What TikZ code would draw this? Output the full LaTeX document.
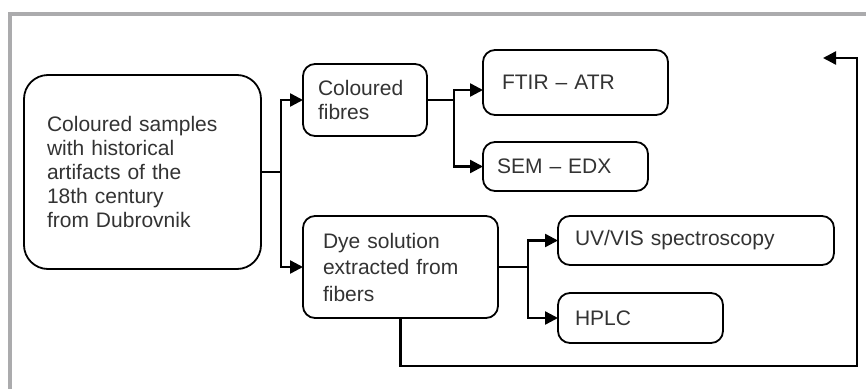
\documentclass[tikz,border=0pt]{standalone}
\usepackage{fontspec}
\setmainfont{Liberation Sans}
\usetikzlibrary{arrows.meta}
\definecolor{txt}{HTML}{333333}
\definecolor{frame}{HTML}{ABABAD}
\tikzset{
  box/.style={draw=black, line width=1.8pt, rounded corners=12pt, anchor=north west,
    outer sep=0pt, align=left, text=txt, inner ysep=0pt, font=\fontsize{21}{24}\selectfont},
  conn/.style={line width=2.4pt, draw=black},
  arr/.style={conn, -{Triangle[length=13pt,width=13pt]}},
}
\begin{document}
\begin{tikzpicture}[x=1pt,y=-1pt]
\useasboundingbox (0,0) rectangle (866,388);
\fill[white] (0,0) rectangle (866,388);
\draw[frame, line width=4pt] (10,390) -- (10,14) -- (870,14);

\node[box, rounded corners=24pt, minimum width=237pt, minimum height=194pt, text width=191pt, inner xsep=23pt] (main) at (24,75)
  {Coloured samples\\with historical\\artifacts of the\\18th century\\from Dubrovnik};
\node[box, minimum width=124pt, minimum height=72pt, text width=94pt, inner xsep=15pt] (fibres) at (303,64)
  {Coloured\\fibres};
\node[box, minimum width=185pt, minimum height=65pt, text width=147pt, inner xsep=19pt] (ftir) at (483,50)
  {FTIR -- ATR};
\node[box, minimum width=165pt, minimum height=49pt, text width=137pt, inner xsep=14pt] (sem) at (483,142)
  {SEM -- EDX};
\node[box, minimum width=195pt, minimum height=102pt, text width=155pt, inner xsep=20pt, font=\fontsize{21}{26.5}\selectfont] (dye) at (303,216)
  {Dye solution\\extracted from\\fibers};
\node[box, minimum width=276pt, minimum height=49pt, text width=242pt, inner xsep=17pt] (uv) at (558,216)
  {UV/VIS spectroscopy};
\node[box, minimum width=165pt, minimum height=50pt, text width=131pt, inner xsep=17pt] (hplc) at (558,293)
  {HPLC};

\coordinate (c1) at (857,366);
\coordinate (ret) at (823,58);

\draw[conn] (main.east) -- ++(20,0) coordinate (j1);
\draw[arr] (j1) |- (fibres.west);
\draw[arr] (j1) |- (dye.west);
\draw[conn] (fibres.east) -- ++(27,0) coordinate (j2);
\draw[arr] (j2) |- ([yshift=-7.5pt]ftir.west);
\draw[arr] (j2) |- (sem.west);
\draw[conn] (dye.east) -- ++(30,0) coordinate (j3);
\draw[arr] (j3) |- (uv.west);
\draw[arr] (j3) |- (hplc.west);
\draw[arr] (dye.south) |- (c1) |- (ret);
\end{tikzpicture}
\end{document}
